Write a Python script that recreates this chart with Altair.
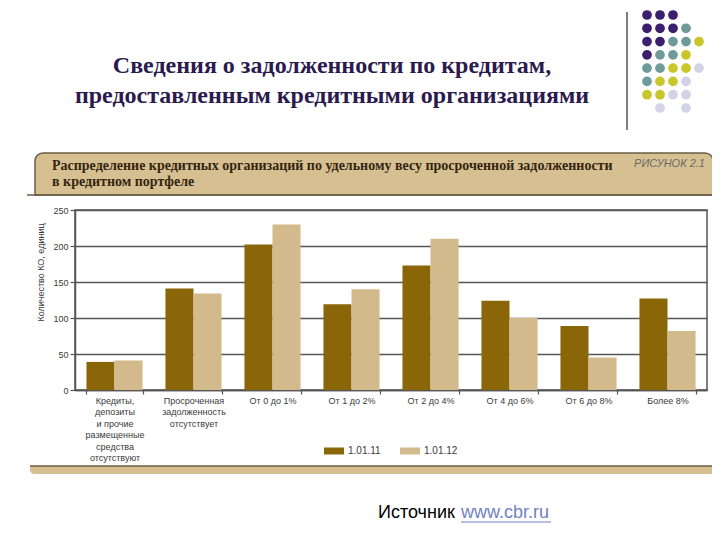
import altair as alt
import pandas as pd

# ---------------- data ----------------
categories = [
    "Кредиты,\nдепозиты\nи прочие\nразмещенные\nсредства\nотсутствуют",
    "Просроченная\nзадолженность\nотсутствует",
    "От 0 до 1%",
    "От 1 до 2%",
    "От 2 до 4%",
    "От 4 до 6%",
    "От 6 до 8%",
    "Более 8%",
]
series = ["1.01.11", "1.01.12"]
values_2011 = [39, 141, 202, 119, 173, 124, 89, 127]
values_2012 = [41, 134, 230, 140, 210, 100, 45, 82]
y_ticks = [0, 50, 100, 150, 200, 250]

slide_title = ["Сведения о задолженности по кредитам,",
               "предоставленным кредитными организациями"]
header_lines = ["Распределение кредитных организаций по удельному весу просроченной задолженности",
                "в кредитном портфеле"]
figure_label = "РИСУНОК 2.1"
y_title = "Количество КО, единиц"
source_label = "Источник"
source_link = "www.cbr.ru"

# decorative dot grid (P purple, T teal, Y yellow, L lavender)
dot_pattern = ["PPP..", "PPPT.", "PPTTY", "PTTY.", "TTYYL", "TYYL.", "YYLL.", ".L.L."]

rows = []
for cat, a, b in zip(categories, values_2011, values_2012):
    rows.append({"cat": cat, "series": series[0], "value": a})
    rows.append({"cat": cat, "series": series[1], "value": b})
df = pd.DataFrame(rows)

dots = pd.DataFrame([
    {"row": r, "col": c, "kind": ch}
    for r, line in enumerate(dot_pattern)
    for c, ch in enumerate(line) if ch != "."
])

one = pd.DataFrame({"k": [0]})

DARK = "#8a6608"
LIGHT = "#d2ba8c"
TAN = "#d6c092"
EDGE = "#6b5d45"
GRID = "#555555"
FONT = "Liberation Sans"

# ---------------- helpers for decoration ----------------
def rect(x, x2, y, y2, **kw):
    return alt.Chart(one).mark_rect(**kw).encode(
        x=alt.value(x), x2=alt.value(x2), y=alt.value(y), y2=alt.value(y2))

def rule(x, x2, y, y2, **kw):
    return alt.Chart(one).mark_rule(**kw).encode(
        x=alt.value(x), x2=alt.value(x2), y=alt.value(y), y2=alt.value(y2))

def text(t, x, y, **kw):
    return alt.Chart(one).mark_text(text=t, **kw).encode(
        x=alt.value(x), y=alt.value(y))

# ---------------- bars ----------------
bars = alt.Chart(df).mark_bar().encode(
    x=alt.X("cat:N", sort=categories, title=None,
            scale=alt.Scale(paddingInner=0.29, paddingOuter=0.145),
            axis=alt.Axis(labelAngle=0, tickBand="extent", tickSize=4,
                          labelPadding=2, labelExpr="split(datum.label, '\\n')",
                          labelLineHeight=11.5, labelFontSize=9, labelColor="#3a3a3a",
                          labelFont=FONT, grid=False, labelLimit=0,
                          domainColor=GRID, domainWidth=1.5, tickColor=GRID, tickWidth=1.2)),
    xOffset=alt.XOffset("series:N", sort=series),
    y=alt.Y("value:Q", scale=alt.Scale(domain=[0, 250], nice=False),
            axis=alt.Axis(values=y_ticks, tickSize=5, labelPadding=2, labelFontSize=9,
                          labelColor="#3a3a3a", labelFont=FONT,
                          title=y_title, titleFontSize=9, titleFontWeight="normal",
                          titleColor="#3a3a3a", titleFont=FONT,
                          titleX=-35, titleY=62, titleAngle=270,
                          titleAlign="center", titleBaseline="middle",
                          grid=True, gridColor=GRID, gridWidth=1.5,
                          domainColor=GRID, domainWidth=1.5, tickColor=GRID, tickWidth=1.2)),
    color=alt.Color("series:N", sort=series,
                    scale=alt.Scale(domain=series, range=[DARK, LIGHT]),
                    legend=alt.Legend(orient="none", legendX=249, legendY=231,
                                      direction="horizontal", title=None,
                                      symbolType="M-1,-0.35H1V0.35H-1Z", symbolSize=400,
                                      symbolStrokeWidth=0, labelFontSize=10,
                                      labelColor="#3a3a3a", labelFont=FONT,
                                      labelOffset=4, columnPadding=19)),
)

dot_layer = alt.Chart(dots).mark_circle(size=95, opacity=1).encode(
    x=alt.X("col:Q", scale=alt.Scale(domain=[0, 4], range=[572, 624]), axis=None),
    y=alt.Y("row:Q", scale=alt.Scale(domain=[0, 7], range=[-195, -102]), axis=None),
    color=alt.Color("kind:N", scale=alt.Scale(domain=["P", "T", "Y", "L"],
                    range=["#3b1e6e", "#6e9a9a", "#c9c62b", "#d3d3e8"]), legend=None),
)

layers = [
    # header band
    rect(-40, 638, -57, -15, fill=TAN, stroke=EDGE, strokeWidth=1.5,
         cornerRadiusTopLeft=8, cornerRadiusTopRight=8),
    rule(-48, 638, -15, -15, color=EDGE, strokeWidth=1.5),
    # right border & bottom band
    rule(638, 638, -15, 256, color="#666666", strokeWidth=1.5),
    rect(-45, 638, 256, 264, fill=TAN, cornerRadiusBottomLeft=6),
    rule(-45, 638, 256, 256, color=EDGE, strokeWidth=1.5),
    bars,
    dot_layer,
    rule(552, 552, -198, -80, color="#000000", strokeWidth=1),
    text(slide_title[0], 257, -144, font="Liberation Serif", fontSize=24,
         fontWeight="bold", color="#2b1a4e", align="center", baseline="middle"),
    text(slide_title[1], 257, -114, font="Liberation Serif", fontSize=24,
         fontWeight="bold", color="#2b1a4e", align="center", baseline="middle"),
    text(header_lines[0], -23, -44, font="Liberation Serif",
         fontSize=14, fontWeight="bold", color="#33250f", align="left", baseline="middle"),
    text(header_lines[1], -23, -28, font="Liberation Serif",
         fontSize=14, fontWeight="bold", color="#33250f", align="left", baseline="middle"),
    text(figure_label, 630, -46, font=FONT, fontSize=11, fontStyle="italic",
         color="#6b6b6b", align="right", baseline="middle"),
    text(source_label, 303, 303, font=FONT, fontSize=18, color="#000000",
         align="left", baseline="middle"),
    text(source_link, 386, 303, font=FONT, fontSize=18, color="#6f82c0",
         align="left", baseline="middle"),
    rule(386, 476, 312, 312, color="#6f82c0", strokeWidth=1),
]

chart = alt.layer(*layers).resolve_scale(
    x="independent", y="independent", color="independent"
).properties(
    width=632, height=180,
    padding={"left": 67, "top": 202, "right": 5, "bottom": 142},
    autosize=alt.AutoSizeParams(type="none"),
).configure(background="white").configure_view(
    stroke=GRID, strokeWidth=1.5
)

chart.save("out.html", embed_options={"renderer": "svg", "actions": False})
